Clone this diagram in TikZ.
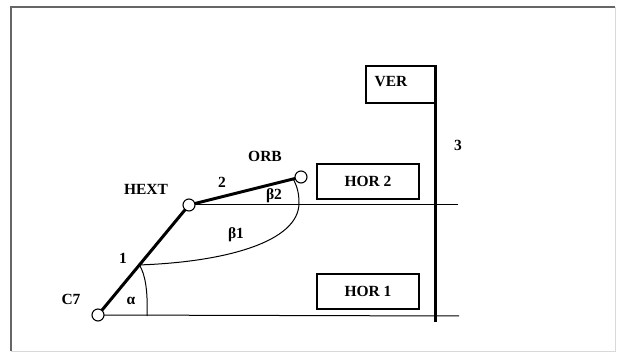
\documentclass[tikz,border=0pt]{standalone}
\usepackage{fontspec}
\setmainfont{Liberation Serif}
\usetikzlibrary{calc}
\begin{document}
\begin{tikzpicture}[x=1pt,y=-1pt,
  lbl/.style={font=\fontsize{15.5}{17}\selectfont\bfseries, inner sep=0pt},
  joint/.style={circle, draw=black, fill=white, line width=1.1pt, minimum size=12pt, inner sep=0pt},
  hbox/.style={draw=black, line width=1.1pt, minimum width=102pt, minimum height=35pt, inner sep=0pt, font=\fontsize{15.5}{17}\selectfont\bfseries},
  thin/.style={line width=1pt},
  link/.style={line width=3pt}]
\useasboundingbox (0,0) rectangle (619,352);
% frame
\draw[line width=0.8pt, black!15] (11,351) -- (615,351) -- (615,7);
\draw[line width=1.6pt, black!60] (11,351) -- (11,7) -- (615,7);
% vertical reference line
\coordinate (vtop) at (435,65);
\coordinate (vbot) at (435,322);
% boxes
\node[draw=black, line width=1.1pt, minimum width=69pt, minimum height=37pt, inner sep=0pt] (verbox) at (400.5,84.5) {};
\node[lbl] (ver) at (391,82) {VER};
\node[hbox] (hor2) at (368,181.5) {HOR 2};
\node[hbox] (hor1) at (368,291.5) {HOR 1};
\draw[link] (vtop) -- (vbot);
\node[lbl] (three) at (458,145) {3};
% joints
\coordinate (c7c) at (98,315);
\coordinate (hextc) at (189,205);
\coordinate (orbc) at (301,177);
\coordinate (lowend) at (459,316);
\coordinate (upend) at (458,205);
\draw[thin] (c7c) -- (lowend);
\draw[thin] (hextc) -- (upend);
\draw[link] (c7c) -- (hextc) -- (orbc);
% arcs
\coordinate (p) at ($(c7c)!0.455!(hextc)$);
\coordinate (e) at ($(hextc)!0.93!(orbc)$);
\coordinate (alphaend) at (147,316);
\draw[thin] (p) .. controls (145,274) and (148,290) .. (alphaend);
\draw[thin] (p) .. controls (225,262) and (299,242) .. (299,203) .. controls (299,193) and (297,186) .. (e);
\node[joint] (c7) at (c7c) {};
\node[joint] (hext) at (hextc) {};
\node[joint] (orb) at (orbc) {};
% labels
\node[lbl] (orbl) at (265,156) {ORB};
\node[lbl] (hextl) at (146,189) {HEXT};
\node[lbl] (two) at (222,182) {2};
\node[lbl] (b2) at (274,196) {β2};
\node[lbl] (b1) at (236,235) {β1};
\node[lbl] (one) at (123,258) {1};
\node[lbl] (c7l) at (71,299) {C7};
\node[lbl] (al) at (131,301) {α};
\end{tikzpicture}
\end{document}
